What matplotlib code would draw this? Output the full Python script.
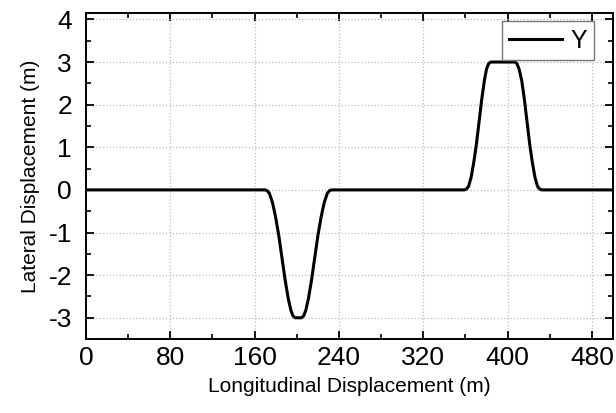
from matplotlib import pyplot as plt
import numpy as np

plt.rcParams['font.family'] = ['Liberation Sans', 'DejaVu Sans']
plt.rcParams['axes.unicode_minus'] = False

# longitudinal position (m) and lateral offset (m)
x_pos = [0, 100, 170, 172, 174, 177, 180, 183, 186, 189, 192, 194.5, 196.5, 198.5,
         204.5, 206.5, 208.5, 211, 214, 217, 220, 223, 226, 229, 231, 233, 300,
         359, 361, 363, 365.5, 368, 370.5, 373, 375.5, 378, 380, 382, 384,
         407, 409, 411, 413.5, 416, 418.5, 421, 423.5, 426, 428.5, 430.5, 432.5, 500]
y_lat = [0, 0, 0, -0.02, -0.08, -0.3, -0.65, -1.08, -1.6, -2.12, -2.56, -2.83, -2.96, -3,
         -3, -2.96, -2.83, -2.56, -2.12, -1.6, -1.08, -0.65, -0.3, -0.08, -0.02, 0, 0,
         0, 0.02, 0.08, 0.3, 0.65, 1.08, 1.6, 2.12, 2.56, 2.83, 2.96, 3,
         3, 2.96, 2.83, 2.56, 2.12, 1.6, 1.08, 0.65, 0.3, 0.08, 0.02, 0, 0]

x_ticks = [0, 80, 160, 240, 320, 400, 480]
y_ticks = [-3, -2, -1, 0, 1, 2, 3, 4]

fig = plt.figure(figsize=(6.16, 4.13), dpi=100)
ax = fig.add_axes([0.1396, 0.179, 0.8554, 0.7895])

ax.plot(x_pos, y_lat, color='black', lw=2.2, label='Y')

ax.set_xlim(0, 500)
ax.set_ylim(-3.5, 4.15)
ax.set_xticks(x_ticks)
ax.set_yticks(y_ticks)
ax.set_xticks(np.arange(40, 500, 80), minor=True)
ax.set_yticks(np.arange(-3.5, 4.1, 0.5), minor=True)
ax.tick_params(which='both', direction='in', top=True, right=True,
               labeltop=False, labelright=False)
ax.tick_params(which='major', length=6, width=1.3, labelsize=19)
ax.tick_params(axis='x', which='major', pad=5)
ax.tick_params(axis='y', which='major', pad=10)
ax.tick_params(which='minor', length=3.5, width=1.2)
for s in ax.spines.values():
    s.set_linewidth(1.4)

ax.grid(True, which='major', color='#bbbbbb', linestyle=':', linewidth=0.9)

ax.set_xlabel('Longitudinal Displacement (m)', fontsize=15, labelpad=5)
ax.set_ylabel('Lateral Displacement (m)', fontsize=15, labelpad=6)

leg = ax.legend(loc='upper right', fontsize=18, handlelength=2.1,
                handletextpad=0.35, fancybox=False, framealpha=1,
                borderpad=0.3, borderaxespad=0,
                bbox_to_anchor=(0.965, 0.975))
leg.get_frame().set_edgecolor('#777777')
leg.get_frame().set_linewidth(1.0)

plt.savefig('out.png', dpi=100)
